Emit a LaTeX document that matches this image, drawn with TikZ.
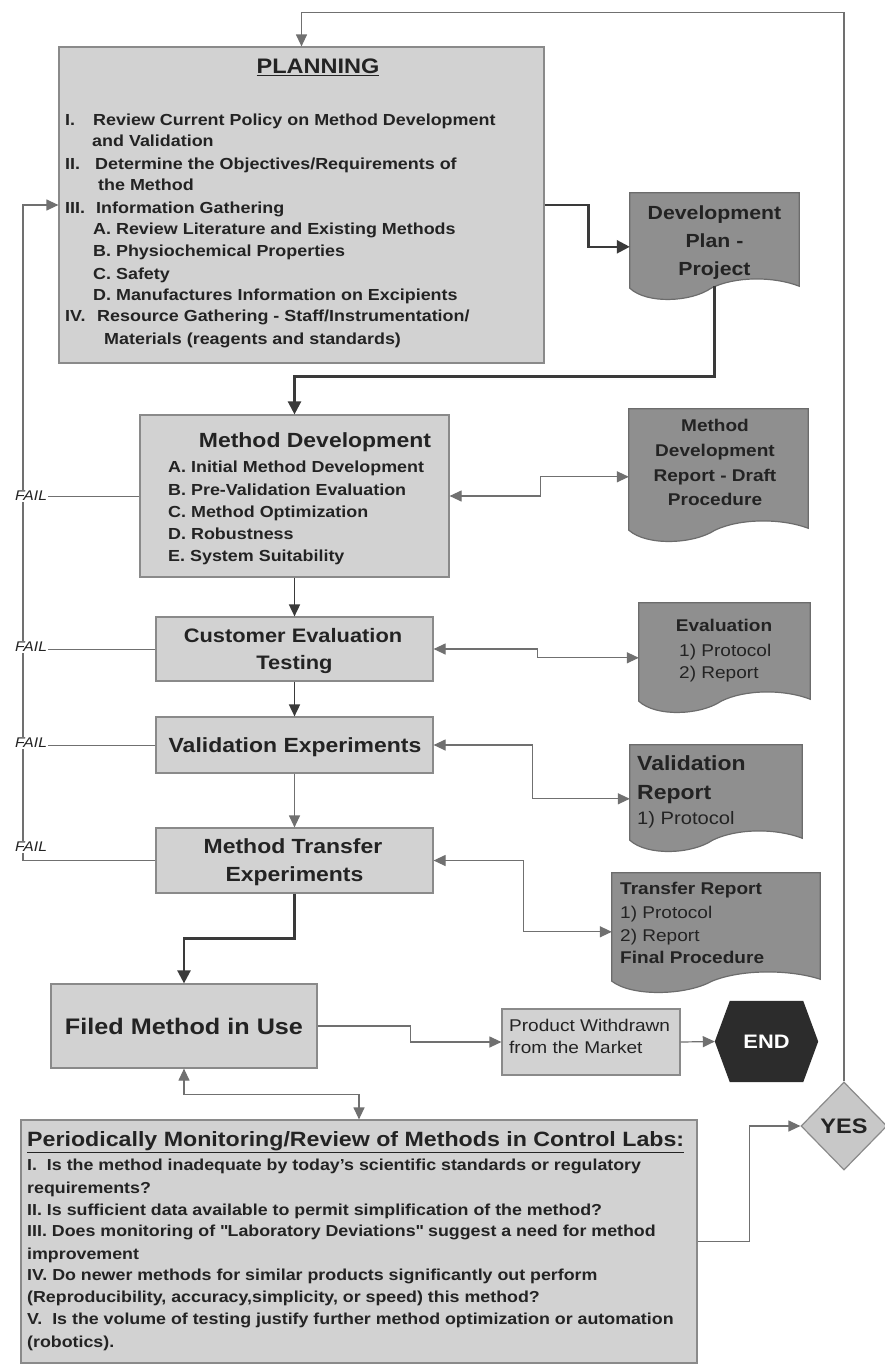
\documentclass[tikz,border=0pt]{standalone}
\usepackage{fontspec}
\setmainfont{Liberation Sans}[FakeStretch=1.12]
\usetikzlibrary{arrows.meta,calc,shapes.geometric}
\definecolor{boxfill}{HTML}{D2D2D2}
\definecolor{boxline}{HTML}{8A8A8A}
\definecolor{docfill}{HTML}{8F8F8F}
\definecolor{docline}{HTML}{6C6C6C}
\definecolor{txt}{HTML}{232323}
\definecolor{linegray}{HTML}{707070}
\definecolor{darkline}{HTML}{3A3A3A}
\definecolor{endfill}{HTML}{2C2C2C}
\definecolor{yesfill}{HTML}{C8C8C8}
\newcommand\fsz[2]{\fontsize{#1}{#2}\selectfont}
\newcommand\docshape[1]{%
  \path[docsh] let \p1=(#1.south west), \p2=(#1.north east), \n1={\x2-\x1} in
   (\x1,\y2) -- (\x2,\y2) -- (\x2,\y1)
   .. controls ({\x2-0.15*\n1},{\y1+10pt}) and ({\x1+0.62*\n1},{\y1+10pt}) .. ({\x1+0.48*\n1},{\y1-2pt})
   .. controls ({\x1+0.36*\n1},{\y1-16pt}) and ({\x1+0.1*\n1},{\y1-18pt}) .. (\x1,{\y1-2pt}) -- cycle;}
\begin{document}
\begin{tikzpicture}[x=1pt,y=-1pt,
  pbox/.style={draw=boxline, fill=boxfill, line width=1.2pt, inner sep=0pt},
  docnode/.style={draw=none, inner sep=0pt},
  docsh/.style={draw=docline, fill=docfill, line width=1.2pt},
  tx/.style={inner sep=0pt, text=txt},
  ptext/.style={tx, anchor=base west, font=\fsz{16}{22}\bfseries},
  mtext/.style={tx, anchor=base west, font=\fsz{15.9}{22}\bfseries},
  arr/.style={draw=linegray, line width=1.2pt, -{Triangle[length=12pt,width=11pt]}},
  biarr/.style={draw=linegray, line width=1.2pt, {Triangle[length=12pt,width=11pt]}-{Triangle[length=12pt,width=11pt]}},
  medarr/.style={draw=darkline, line width=1.7pt, -{Triangle[length=12pt,width=11pt]}},
  thickarr/.style={draw=darkline, line width=2.4pt, -{Triangle[length=13pt,width=13pt]}},
  failln/.style={draw=linegray, line width=1pt},
  faillabel/.style={fill=white, inner sep=1.5pt, text=txt, font=\fsz{14}{14}\itshape}
]
\useasboundingbox (0,0) rectangle (884,1365);
\fill[white] (0,0) rectangle (884,1365);

% process boxes
\node[pbox, minimum width=485pt, minimum height=316pt] (plan) at (301.5,205) {};
\node[pbox, minimum width=309pt, minimum height=162pt] (md) at (294.5,496) {};
\node[pbox, minimum width=277pt, minimum height=64pt] (ce) at (294.5,649) {};
\node[pbox, minimum width=277pt, minimum height=56pt] (ve) at (294.5,745) {};
\node[pbox, minimum width=277pt, minimum height=65pt] (mt) at (294.5,860.5) {};
\node[pbox, minimum width=266pt, minimum height=84pt] (fm) at (184,1026) {};
\node[pbox, minimum width=178pt, minimum height=66pt] (pw) at (591,1042) {};
\node[pbox, minimum width=676pt, minimum height=243pt] (mon) at (359,1241.5) {};

% documents
\node[docnode, minimum width=169pt, minimum height=93pt] (dp) at (714.5,239.5) {};
\node[docnode, minimum width=179pt, minimum height=119pt] (mdr) at (718.5,468.5) {};
\node[docnode, minimum width=171pt, minimum height=96pt] (ed) at (724.5,651) {};
\node[docnode, minimum width=172pt, minimum height=93pt] (vr) at (716,791.5) {};
\node[docnode, minimum width=208pt, minimum height=106pt] (tr) at (716,926) {};
\docshape{dp}
\docshape{mdr}
\docshape{ed}
\docshape{vr}
\docshape{tr}

% END hexagon
\node[draw=none, minimum width=103pt, minimum height=81pt, inner sep=0pt] (endn) at (766.5,1041.5) {};
\fill[endfill] (endn.west) -- ($(endn.north west)+(15,0)$) -- ($(endn.north east)+(-15,0)$) -- (endn.east)
  -- ($(endn.south east)+(-15,0)$) -- ($(endn.south west)+(15,0)$) -- cycle;
\node[inner sep=0pt, text=white, font=\fsz{19.5}{20}\bfseries] (endt) at (endn.center) {END};

% YES diamond
\node[diamond, draw=boxline, fill=yesfill, line width=1.2pt, minimum width=86pt, minimum height=88pt, inner sep=0pt,
  text=txt, font=\fsz{21}{21}\bfseries] (yes) at (844,1126) {YES};

% connectors
\coordinate (lx) at (23,0);
\draw[arr] (yes.north) |- ($(plan.north)+(0,-34)$) -- (plan.north);
\draw[arr] (mt.west) -| (lx |- plan.west) -- (plan.west);
\draw[failln] (md.west) -- (lx |- md.west);
\draw[failln] (ce.west) -- (lx |- ce.west);
\draw[failln] (ve.west) -- (lx |- ve.west);
\draw[thickarr] (plan.east) -- ++(44,0) |- ($(dp.north west)+(0,54)$);
\draw[thickarr] (dp.south) |- ($(md.north)+(0,-38)$) -- (md.north);
\draw[medarr] (md.south) -- (ce.north);
\draw[medarr] (ce.south) -- (ve.north);
\draw[arr] (ve.south) -- (mt.north);
\draw[thickarr] (mt.south) |- ($(fm.north)+(0,-45)$) -- (fm.north);
\draw[biarr] (md.east) -- ++(91,0) |- ($(mdr.north west)+(0,68)$);
\draw[biarr] (ce.east) -- ++(104,0) |- ($(ed.north west)+(0,55)$);
\draw[biarr] (ve.east) -- ++(99,0) |- ($(vr.north west)+(0,54)$);
\draw[biarr] (mt.east) -- ++(90,0) |- ($(tr.north west)+(0,59)$);
\draw[arr] (fm.east) -- ++(93,0) |- (pw.west);
\draw[arr] (pw.east) -- (endn.west);
\draw[biarr] (fm.south) |- ($(mon.north)+(0,-25)$) -- (mon.north);
\draw[arr] (mon.east) -- ++(52,0) |- (yes.west);

% FAIL labels
\node[faillabel] (f1) at (31,496) {FAIL};
\node[faillabel] (f2) at (31,647) {FAIL};
\node[faillabel] (f3) at (31,743) {FAIL};
\node[faillabel] (f4) at (31,847) {FAIL};

% planning text
\node[tx, anchor=base, font=\fsz{21}{21}\bfseries] (plant) at (318,73.5) {\underline{PLANNING}};
\node[ptext] (pl1) at (65,125) {\makebox[28pt][l]{I.}Review Current Policy on Method Development};
\node[ptext] (pl2) at (92,146) {and Validation};
\node[ptext] (pl3) at (65,169) {\makebox[30pt][l]{II.}Determine the Objectives/Requirements of};
\node[ptext] (pl4) at (98,190) {the Method};
\node[ptext] (pl5) at (65,213) {\makebox[31pt][l]{III.}Information Gathering};
\node[ptext] (pl6) at (93,234) {A. Review Literature and Existing Methods};
\node[ptext] (pl7) at (93,256) {B. Physiochemical Properties};
\node[ptext] (pl8) at (93,279) {C. Safety};
\node[ptext] (pl9) at (93,300) {D. Manufactures Information on Excipients};
\node[ptext] (pl10) at (65,321) {\makebox[32pt][l]{IV.}Resource Gathering - Staff/Instrumentation/};
\node[ptext] (pl11) at (104,344) {Materials (reagents and standards)};

% method development text
\node[tx, anchor=base, font=\fsz{20.5}{20}\bfseries] (mdt) at (315,447) {Method Development};
\node[ptext] (md1) at (168,472) {A. Initial Method Development};
\node[ptext] (md2) at (168,495) {B. Pre-Validation Evaluation};
\node[ptext] (md3) at (168,517.5) {C. Method Optimization};
\node[ptext] (md4) at (168,539.5) {D. Robustness};
\node[ptext] (md5) at (168,561) {E. System Suitability};

% other box texts
\node[tx, anchor=base, font=\fsz{19.5}{20}\bfseries] (ce1) at (293,642) {Customer Evaluation};
\node[tx, anchor=base, font=\fsz{19.5}{20}\bfseries] (ce2) at (294.5,669) {Testing};
\node[tx, anchor=base, font=\fsz{20.5}{20}\bfseries] (vet) at (295,752) {Validation Experiments};
\node[tx, anchor=base, font=\fsz{20.5}{20}\bfseries] (mt1) at (293,853) {Method Transfer};
\node[tx, anchor=base, font=\fsz{20.5}{20}\bfseries] (mt2) at (294.5,881) {Experiments};
\node[tx, anchor=base, font=\fsz{22.5}{22}\bfseries] (fmt) at (184,1034) {Filed Method in Use};
\node[tx, anchor=base west, font=\fsz{17}{17}] (pw1) at (509,1031) {Product Withdrawn};
\node[tx, anchor=base west, font=\fsz{17}{17}] (pw2) at (509,1053) {from the Market};

% document texts
\node[tx, anchor=base, font=\fsz{19}{19}\bfseries] (dp1) at (714.5,219) {Development};
\node[tx, anchor=base, font=\fsz{19}{19}\bfseries] (dp2) at (714.5,247) {Plan -};
\node[tx, anchor=base, font=\fsz{19}{19}\bfseries] (dp3) at (714.5,275) {Project};
\node[tx, anchor=base, font=\fsz{17}{17}\bfseries] (mdr1) at (715,431) {Method};
\node[tx, anchor=base, font=\fsz{17}{17}\bfseries] (mdr2) at (715,456) {Development};
\node[tx, anchor=base, font=\fsz{17}{17}\bfseries] (mdr3) at (715,481) {Report - Draft};
\node[tx, anchor=base, font=\fsz{17}{17}\bfseries] (mdr4) at (715,505) {Procedure};
\node[tx, anchor=base, font=\fsz{17}{17}\bfseries] (ed1) at (724,631) {Evaluation};
\node[tx, anchor=base west, font=\fsz{17}{17}] (ed2) at (679,656) {1) Protocol};
\node[tx, anchor=base west, font=\fsz{17}{17}] (ed3) at (679,678) {2) Report};
\node[tx, anchor=base west, font=\fsz{20.5}{20}\bfseries] (vr1) at (637,770) {Validation};
\node[tx, anchor=base west, font=\fsz{20.5}{20}\bfseries] (vr2) at (637,799) {Report};
\node[tx, anchor=base west, font=\fsz{18}{18}] (vr3) at (637,824.5) {1) Protocol};
\node[tx, anchor=base west, font=\fsz{17}{17}\bfseries] (tr1) at (620,894) {Transfer Report};
\node[tx, anchor=base west, font=\fsz{17}{17}] (tr2) at (620,918) {1) Protocol};
\node[tx, anchor=base west, font=\fsz{17}{17}] (tr3) at (620,941) {2) Report};
\node[tx, anchor=base west, font=\fsz{17}{17}\bfseries] (tr4) at (620,963) {Final Procedure};

% monitoring text
\node[tx, anchor=base west, font=\fsz{20.7}{20}\bfseries] (mont) at (27,1146) {\underline{Periodically Monitoring/Review of Methods in Control Labs:}};
\node[mtext] (mo1) at (27,1170) {I.\ \ Is the method inadequate by today's scientific standards or regulatory};
\node[mtext] (mo2) at (27,1193) {requirements?};
\node[mtext] (mo3) at (27,1215) {II. Is sufficient data available to permit simplification of the method?};
\node[mtext] (mo4) at (27,1236) {III. Does monitoring of \textquotedbl Laboratory Deviations\textquotedbl\ suggest a need for method};
\node[mtext] (mo5) at (27,1259) {improvement};
\node[mtext] (mo6) at (27,1280) {IV. Do newer methods for similar products significantly out perform};
\node[mtext] (mo7) at (27,1302) {(Reproducibility, accuracy,simplicity, or speed) this method?};
\node[mtext] (mo8) at (27,1324) {V.\ \ Is the volume of testing justify further method optimization or automation};
\node[mtext] (mo9) at (27,1347) {(robotics).};
\end{tikzpicture}
\end{document}
